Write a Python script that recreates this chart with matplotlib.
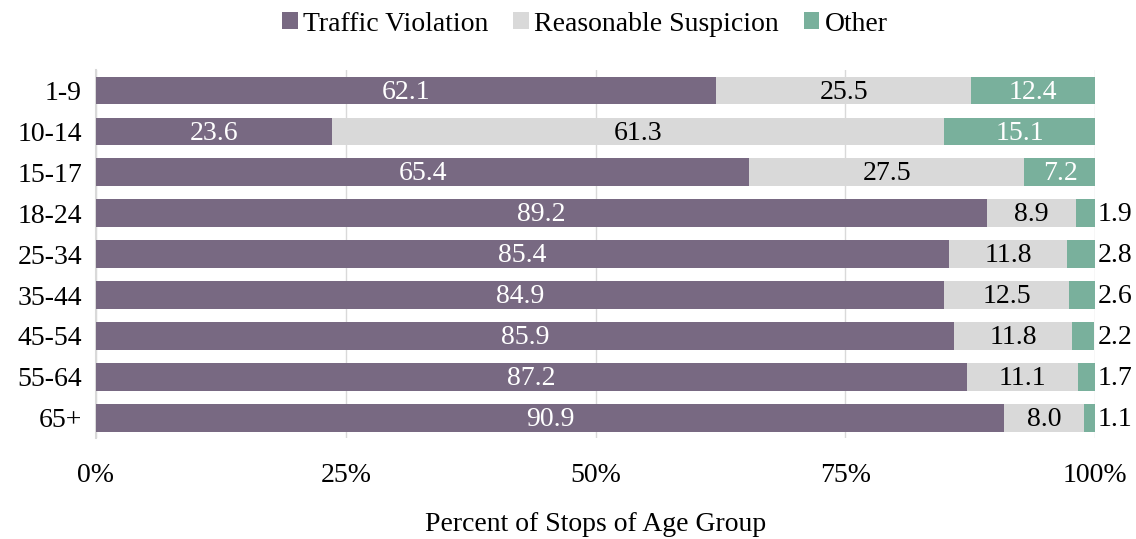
import matplotlib.pyplot as plt
from matplotlib.ticker import FuncFormatter

plt.rcParams['font.family'] = ['Liberation Serif', 'DejaVu Serif']

# Données
age_groups = ['1-9', '10-14', '15-17', '18-24', '25-34', '35-44', '45-54', '55-64', '65+']
traffic = [62.1, 23.6, 65.4, 89.2, 85.4, 84.9, 85.9, 87.2, 90.9]
suspicion = [25.5, 61.3, 27.5, 8.9, 11.8, 12.5, 11.8, 11.1, 8.0]
other = [12.4, 15.1, 7.2, 1.9, 2.8, 2.6, 2.2, 1.7, 1.1]

c_traffic = '#786982'
c_susp = '#d9d9d9'
c_other = '#79b09c'

fig = plt.figure(figsize=(11.36, 5.39), dpi=100)
ax = fig.add_axes([0.0845, 0.187, 0.8795, 0.683])

y = list(range(len(age_groups)))
h = 0.68
left2 = traffic
left3 = [a + b for a, b in zip(traffic, suspicion)]

ax.barh(y, traffic, height=h, color=c_traffic, label='Traffic Violation', zorder=3)
ax.barh(y, suspicion, left=left2, height=h, color=c_susp, label='Reasonable Suspicion', zorder=3)
ax.barh(y, other, left=left3, height=h, color=c_other, label='Other', zorder=3)

fs = 20
for i in y:
    ax.text(traffic[i] / 2, i + 0.04, f'{traffic[i]:.1f}', ha='center', va='center',
            color='white', fontsize=fs, zorder=4)
    ax.text(left2[i] + suspicion[i] / 2, i + 0.04, f'{suspicion[i]:.1f}', ha='center', va='center',
            color='black', fontsize=fs, zorder=4)
    if other[i] > 5:
        ax.text(left3[i] + other[i] / 2, i + 0.04, f'{other[i]:.1f}', ha='center', va='center',
                color='white', fontsize=fs, zorder=4)
    else:
        ax.text(100.3, i + 0.04, f'{other[i]:.1f}', ha='left', va='center',
                color='black', fontsize=fs, zorder=4)

ax.set_xlim(0, 100)
ax.set_ylim(len(age_groups) - 0.5, -0.5)
ax.set_yticks(y)
ax.set_yticklabels(age_groups, fontsize=fs)
ax.set_xticks([0, 25, 50, 75, 100])
ax.xaxis.set_major_formatter(FuncFormatter(lambda v, p: f'{v:.0f}%'))
ax.tick_params(axis='x', labelsize=fs, length=0, pad=18)
ax.tick_params(axis='y', length=0, pad=10)
ax.grid(axis='x', color='#d9d9d9', linewidth=1, zorder=0)
for s in ['top', 'right', 'bottom']:
    ax.spines[s].set_visible(False)
ax.spines['left'].set_color('#d9d9d9')
ax.spines['left'].set_linewidth(1.5)

ax.set_xlabel('Percent of Stops of Age Group', fontsize=fs, labelpad=17)

fig.legend(loc='upper center', bbox_to_anchor=(0.515, 1.025), ncol=3, frameon=False,
           fontsize=fs, handlelength=0.55, handleheight=0.55, handletextpad=0.2,
           columnspacing=0.9)

fig.savefig('out.png', dpi=100)
